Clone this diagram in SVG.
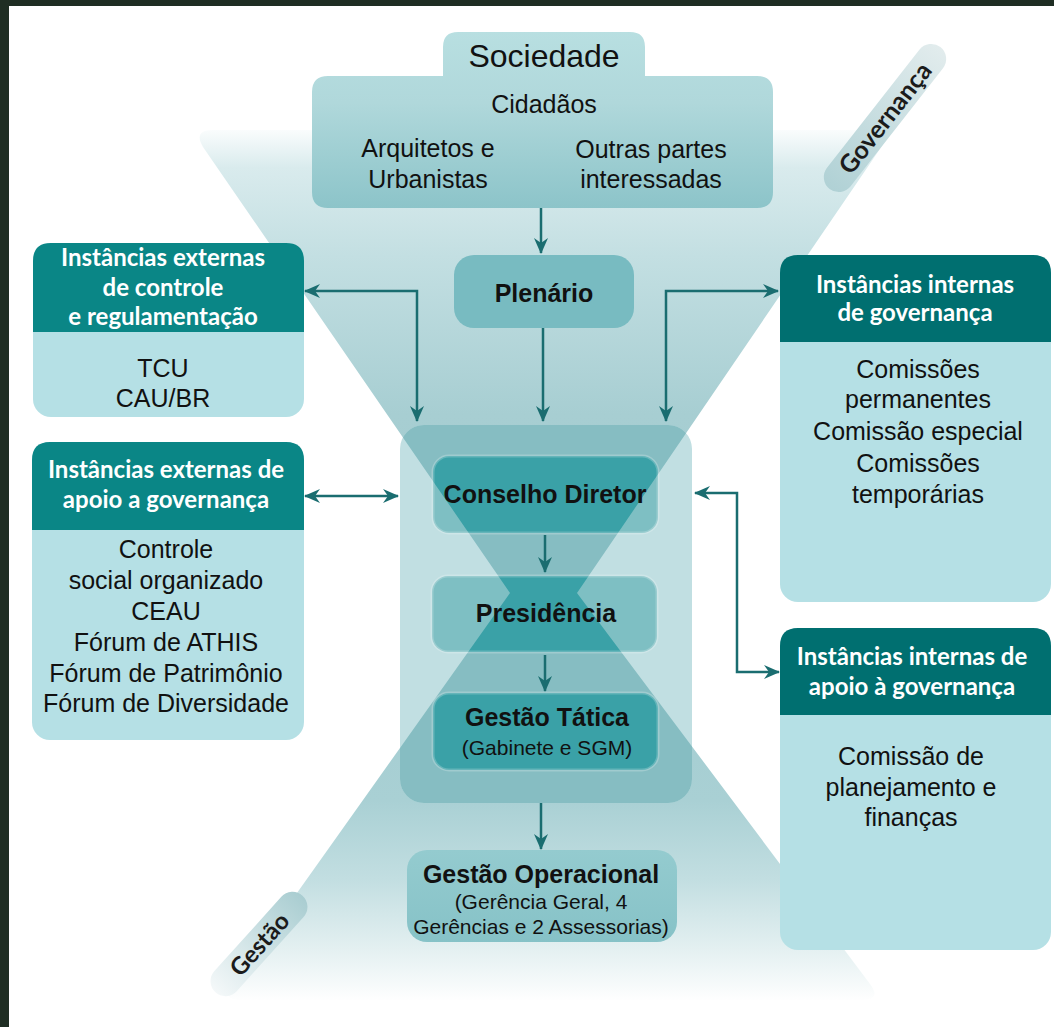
<svg xmlns="http://www.w3.org/2000/svg" width="1054" height="1027" viewBox="0 0 1054 1027">
<style>
.t{font-family:"Liberation Sans",Arial,sans-serif;font-size:25px;fill:#111;text-anchor:middle}
.b{font-weight:bold}
.s{font-size:21px}
.big{font-size:32px}
.h{font-family:Lato,"Open Sans",sans-serif;font-weight:bold;font-size:24px;fill:#fff;text-anchor:middle}
.lbl{font-family:Lato,"Open Sans",sans-serif;font-weight:bold;fill:#1b1b1b;text-anchor:middle}
.conn{stroke:#1a6d70;stroke-width:2.5;fill:none}
.hl{fill:#0a8686}
.hr{fill:#006f70}
.bd{fill:#b5e0e5}
.ib{fill:#7ebfc3}
.ibs{fill:none;stroke:#ffffff;stroke-opacity:.22;stroke-width:3}
.x{fill:#3aa1a7}
</style>
<defs>
<marker id="ah" viewBox="0 0 16 16" refX="15" refY="8" markerWidth="16" markerHeight="16" markerUnits="userSpaceOnUse" orient="auto-start-reverse">
<path d="M0,1 L16,8 L0,15 L5,8 z" fill="#1a6d70"/>
</marker>
<linearGradient id="hg" gradientUnits="userSpaceOnUse" x1="0" y1="124" x2="0" y2="1002">
<stop offset="0" stop-color="#ffffff"/>
<stop offset="0.05" stop-color="#d9ebed"/>
<stop offset="0.15" stop-color="#c3dfe2"/>
<stop offset="0.33" stop-color="#a7ced2"/>
<stop offset="0.55" stop-color="#a0cbd0"/>
<stop offset="0.77" stop-color="#a9d0d4"/>
<stop offset="0.86" stop-color="#c2dee1"/>
<stop offset="0.94" stop-color="#e4f0f1"/>
<stop offset="1" stop-color="#ffffff"/>
</linearGradient>
<linearGradient id="sg" x1="0" y1="0" x2="0" y2="1">
<stop offset="0" stop-color="#b8dfe1"/>
<stop offset="0.4" stop-color="#b0d8db"/>
<stop offset="1" stop-color="#8cc4c9"/>
</linearGradient>
<linearGradient id="og" x1="0" y1="0" x2="0" y2="1">
<stop offset="0" stop-color="#94cbcf"/>
<stop offset="1" stop-color="#86c2c7"/>
</linearGradient>
<linearGradient id="pg" x1="0" y1="0" x2="1" y2="0">
<stop offset="0" stop-color="#b0d1d5"/>
<stop offset="1" stop-color="#e2eced"/>
</linearGradient>
<linearGradient id="pg2" x1="0" y1="0" x2="1" y2="0">
<stop offset="0" stop-color="#f4f8f9"/>
<stop offset="1" stop-color="#a9cdd1"/>
</linearGradient>
<path id="hour" d="M510,593 L203,147 Q193,130 213,130 L873,130 Q893,130 882,146 L577,593 L870,984 Q882,1000 862,1000 L241,1000 Q221,1000 232.4,984 Z"/>
<clipPath id="cC"><rect x="400" y="425" width="292" height="378" rx="24"/></clipPath>
<clipPath id="c1"><rect x="433" y="456" width="225" height="77" rx="16"/></clipPath>
<clipPath id="c2"><rect x="432" y="576" width="225" height="76" rx="16"/></clipPath>
<clipPath id="c3"><rect x="433" y="693" width="225" height="77" rx="16"/></clipPath>
</defs>

<rect x="0" y="0" width="1054" height="1027" fill="#ffffff"/>
<rect x="0" y="0" width="1054" height="6" fill="#1f2e23"/>
<rect x="0" y="0" width="9" height="1027" fill="#1f2e23"/>

<g id="hourglass">
<use href="#hour" fill="url(#hg)"/>
</g>

<g id="governanca-label">
<g transform="rotate(-52 885 118)">
<rect x="795" y="103" width="180" height="30" rx="15" fill="url(#pg)"/>
<text class="lbl" x="885" y="127" font-size="25">Governança</text>
</g>
</g>
<g id="gestao-label">
<g transform="rotate(-48 259 944)">
<rect x="194" y="929" width="130" height="30" rx="15" fill="url(#pg2)"/>
<text class="lbl" x="259" y="953" font-size="24">Gestão</text>
</g>
</g>

<g id="nucleo">
<rect x="400" y="425" width="292" height="378" rx="24" fill="#c1dfe2"/>
<use href="#hour" fill="#86bdc2" clip-path="url(#cC)"/>
</g>

<g id="conselho-diretor">
<rect class="ib" x="433" y="456" width="225" height="77" rx="16"/>
<use href="#hour" class="x" clip-path="url(#c1)"/>
<rect class="ibs" x="433" y="456" width="225" height="77" rx="16"/>
<text class="t b" x="545" y="503">Conselho Diretor</text>
</g>
<g id="presidencia">
<rect class="ib" x="432" y="576" width="225" height="76" rx="16"/>
<use href="#hour" class="x" clip-path="url(#c2)"/>
<rect class="ibs" x="432" y="576" width="225" height="76" rx="16"/>
<text class="t b" x="546" y="622">Presidência</text>
</g>
<g id="gestao-tatica">
<rect class="ib" x="433" y="693" width="225" height="77" rx="16"/>
<use href="#hour" class="x" clip-path="url(#c3)"/>
<rect class="ibs" x="433" y="693" width="225" height="77" rx="16"/>
<text class="t b" x="547" y="726">Gestão Tática</text>
<text class="t s" x="547" y="755">(Gabinete e SGM)</text>
</g>

<g id="sociedade">
<path d="M443,90 V47 Q443,32 458,32 H630 Q645,32 645,47 V76 H757 Q773,76 773,92 V192 Q773,208 757,208 H328 Q312,208 312,192 V92 Q312,76 328,76 H443 Z" fill="url(#sg)"/>
<text class="t big" x="544" y="67">Sociedade</text>
<text class="t" x="544" y="113">Cidadãos</text>
<text class="t" x="428" y="157">Arquitetos e</text>
<text class="t" x="428" y="188">Urbanistas</text>
<text class="t" x="651" y="158">Outras partes</text>
<text class="t" x="651" y="188">interessadas</text>
</g>

<g id="plenario">
<rect x="454" y="255" width="180" height="73" rx="20" fill="#78bbc1"/>
<text class="t b" x="544" y="302">Plenário</text>
</g>

<g id="gestao-operacional">
<rect x="407" y="850" width="270" height="92" rx="20" fill="url(#og)"/>
<text class="t b" x="541" y="883">Gestão Operacional</text>
<text class="t s" x="541" y="909">(Gerência Geral, 4</text>
<text class="t s" x="541" y="934">Gerências e 2 Assessorias)</text>
</g>

<g id="externas-controle">
<rect class="bd" x="33" y="243" width="271" height="174" rx="18"/>
<path class="hl" d="M33,332 V261 Q33,243 51,243 H286 Q304,243 304,261 V332 Z"/>
<text class="h" x="163" y="266">Instâncias externas</text>
<text class="h" x="163" y="296">de controle</text>
<text class="h" x="163" y="325">e regulamentação</text>
<text class="t" x="163" y="377">TCU</text>
<text class="t" x="163" y="407">CAU/BR</text>
</g>

<g id="externas-apoio">
<rect class="bd" x="32" y="442" width="272" height="298" rx="18"/>
<path class="hl" d="M32,530 V460 Q32,442 50,442 H286 Q304,442 304,460 V530 Z"/>
<text class="h" x="166" y="478">Instâncias externas de</text>
<text class="h" x="166" y="508">apoio a governança</text>
<text class="t" x="166" y="558">Controle</text>
<text class="t" x="166" y="589">social organizado</text>
<text class="t" x="166" y="620">CEAU</text>
<text class="t" x="166" y="651">Fórum de ATHIS</text>
<text class="t" x="166" y="682">Fórum de Patrimônio</text>
<text class="t" x="166" y="712">Fórum de Diversidade</text>
</g>

<g id="internas-governanca">
<rect class="bd" x="780" y="255" width="271" height="347" rx="18"/>
<path class="hr" d="M780,342 V273 Q780,255 798,255 H1033 Q1051,255 1051,273 V342 Z"/>
<text class="h" x="915" y="293">Instâncias internas</text>
<text class="h" x="915" y="321">de governança</text>
<text class="t" x="918" y="378">Comissões</text>
<text class="t" x="918" y="408">permanentes</text>
<text class="t" x="918" y="440">Comissão especial</text>
<text class="t" x="918" y="472">Comissões</text>
<text class="t" x="918" y="503">temporárias</text>
</g>

<g id="internas-apoio">
<rect class="bd" x="780" y="628" width="271" height="322" rx="18"/>
<path class="hr" d="M780,715 V646 Q780,628 798,628 H1033 Q1051,628 1051,646 V715 Z"/>
<text class="h" x="912" y="665">Instâncias internas de</text>
<text class="h" x="912" y="695">apoio à governança</text>
<text class="t" x="911" y="765">Comissão de</text>
<text class="t" x="911" y="796">planejamento e</text>
<text class="t" x="911" y="826">finanças</text>
</g>

<g id="connectors">
<path class="conn" d="M541,208 V253" marker-end="url(#ah)"/>
<path class="conn" d="M543,328 V421" marker-end="url(#ah)"/>
<path class="conn" d="M417,421 V291 H305" marker-start="url(#ah)" marker-end="url(#ah)"/>
<path class="conn" d="M666,421 V291 H778" marker-start="url(#ah)" marker-end="url(#ah)"/>
<path class="conn" d="M305,496 H398" marker-start="url(#ah)" marker-end="url(#ah)"/>
<path class="conn" d="M695,493 H737 V672 H779" marker-start="url(#ah)" marker-end="url(#ah)"/>
<path class="conn" d="M545,535 V572" marker-end="url(#ah)"/>
<path class="conn" d="M545,655 V691" marker-end="url(#ah)"/>
<path class="conn" d="M541,803 V849" marker-end="url(#ah)"/>
</g>
</svg>
